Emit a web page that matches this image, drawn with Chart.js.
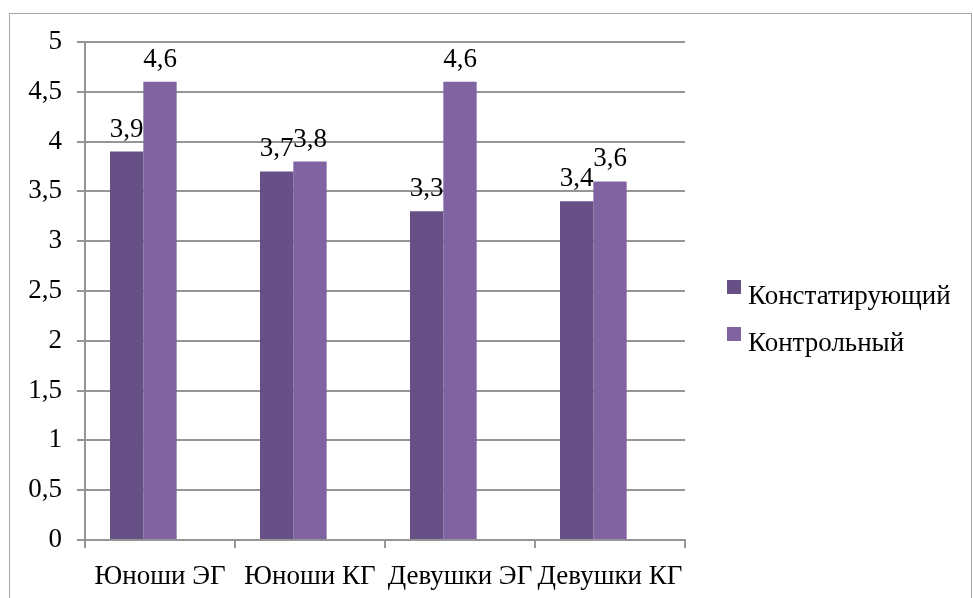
<!DOCTYPE html>
<html lang="ru">
<head>
  <meta charset="UTF-8">
  <title>Результаты по группам</title>
  <script src="https://cdn.jsdelivr.net/npm/chart.js"></script>
  <style>
    html, body {
      margin: 0;
      padding: 0;
      background: #fff;
      overflow: hidden;
    }
    .wrap {
      position: relative;
      width: 973px;
      height: 598px;
    }
    .frame {
      position: absolute;
      left: 9px;
      top: 13px;
      width: 963px;
      height: 640px;
      border: 1px solid #a6a6a6;
      box-sizing: border-box;
    }
    canvas {
      position: absolute;
      left: 0;
      top: 0;
    }
  </style>
</head>
<body>
  <div class="wrap">
    <div class="frame"></div>
    <canvas id="chart" width="973" height="598"></canvas>
  </div>

  <script>
    // Data
    const categories = ['Юноши ЭГ', 'Юноши КГ', 'Девушки ЭГ', 'Девушки КГ'];
    const seriesNames = ['Констатирующий', 'Контрольный'];
    const stateValues = [3.9, 3.7, 3.3, 3.4];
    const controlValues = [4.6, 3.8, 4.6, 3.6];
    // third, empty series keeps the spacing of the clustered bars
    const emptyValues = [null, null, null, null];
    const yMin = 0, yMax = 5, yStep = 0.5;

    const colors = ['#665086', '#8064A2'];
    const FONT = '"Liberation Serif", "Times New Roman", serif';
    const FONT_SIZE = 27;
    const gridColor = '#959595';

    const fmt = v => String(v).replace('.', ',');

    // numbers above the bars
    const valueLabels = {
      id: 'valueLabels',
      afterDatasetsDraw(chart) {
        const ctx = chart.ctx;
        ctx.save();
        ctx.font = FONT_SIZE + 'px ' + FONT;
        ctx.fillStyle = '#000';
        ctx.textAlign = 'center';
        ctx.textBaseline = 'alphabetic';
        chart.data.datasets.forEach((ds, i) => {
          const meta = chart.getDatasetMeta(i);
          meta.data.forEach((bar, j) => {
            const v = ds.data[j];
            if (v == null) return;
            ctx.fillText(fmt(v), bar.x, bar.y - 15);
          });
        });
        ctx.restore();
      }
    };

    // legend to the right of the plot
    const sideLegend = {
      id: 'sideLegend',
      afterDraw(chart, args, opts) {
        const ctx = chart.ctx;
        ctx.save();
        ctx.font = FONT_SIZE + 'px ' + FONT;
        ctx.textBaseline = 'alphabetic';
        ctx.textAlign = 'left';
        chart.data.datasets.forEach((ds, i) => {
          if (!ds.label) return;
          const y = opts.top + i * opts.spacing;
          ctx.fillStyle = ds.backgroundColor;
          ctx.fillRect(opts.left, y, 14, 14);
          ctx.fillStyle = '#000';
          ctx.fillText(ds.label, opts.left + 21, y + 24);
        });
        ctx.restore();
      }
    };

    function draw() {
      const ctx = document.getElementById('chart').getContext('2d');

      new Chart(ctx, {
        type: 'bar',
        data: {
          labels: categories,
          datasets: [
            { label: seriesNames[0], data: stateValues, backgroundColor: colors[0] },
            { label: seriesNames[1], data: controlValues, backgroundColor: colors[1] },
            { label: '', data: emptyValues, backgroundColor: 'transparent' }
          ]
        },
        options: {
          responsive: false,
          animation: false,
          devicePixelRatio: 1,
          layout: {
            padding: { top: 42, right: 288, bottom: 0, left: 0 }
          },
          datasets: {
            bar: {
              categoryPercentage: 100 / 150,
              barPercentage: 1,
              borderWidth: 0
            }
          },
          scales: {
            x: {
              grid: {
                drawOnChartArea: false,
                drawTicks: true,
                tickLength: 8,
                color: gridColor,
                lineWidth: 2
              },
              border: { color: gridColor, width: 2 },
              ticks: {
                autoSkip: false,
                maxRotation: 0,
                minRotation: 0,
                padding: 13,
                color: '#000',
                font: { family: FONT, size: FONT_SIZE }
              },
              afterFit(scale) { scale.height = 58; }
            },
            y: {
              min: yMin,
              max: yMax,
              grid: {
                color: gridColor,
                lineWidth: 2,
                tickLength: 8
              },
              border: { color: gridColor, width: 2 },
              ticks: {
                stepSize: yStep,
                padding: 15,
                color: '#000',
                font: { family: FONT, size: FONT_SIZE },
                callback: v => fmt(v)
              },
              afterFit(scale) { scale.width = 85; }
            }
          },
          plugins: {
            legend: { display: false },
            tooltip: { enabled: false },
            sideLegend: { left: 727, top: 280, spacing: 47 }
          }
        },
        plugins: [valueLabels, sideLegend]
      });
    }

    // make sure the serif face is ready before the canvas text is drawn
    document.fonts.load(FONT_SIZE + 'px "Liberation Serif"').then(draw, draw);
  </script>
</body>
</html>
